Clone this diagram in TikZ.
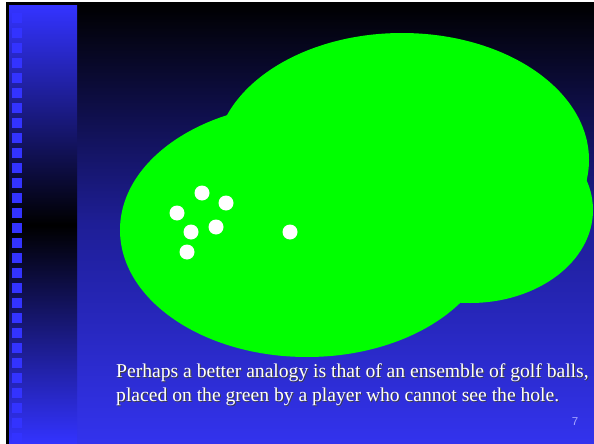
\documentclass[tikz,border=0pt]{standalone}
\usepackage{fontspec}
\setmainfont{Liberation Serif}
\newfontfamily\numfont{Liberation Sans}
\usepackage{tikz}
\usetikzlibrary{positioning}
\usepackage{xcolor}
\definecolor{slideblue}{RGB}{51,51,255}
\definecolor{floorblue}{RGB}{51,51,238}
\definecolor{midblue}{RGB}{30,30,150}
\definecolor{puttgreen}{RGB}{0,255,0}
\definecolor{pagelilac}{RGB}{165,165,255}

\begin{document}
\begin{tikzpicture}[
    x=1pt, y=-1pt,
    ball/.style={circle, fill=white, inner sep=0pt, minimum size=15pt},
    tab/.style={fill=slideblue},
    blob/.style={fill=puttgreen},
    caption/.style={
      text=white,
      align=left,
      anchor=north west,
      inner sep=0pt,
      font=\fontsize{19.6}{24.5}\selectfont
    },
    pagenum/.style={text=pagelilac, inner sep=0pt, font=\numfont\fontsize{11.5}{13}\selectfont}
  ]

  \useasboundingbox (0,0) rectangle (594,444);
  \fill[white] (0,0) rectangle (594,444);

  % slide background and side bar
  \shade[top color=black, bottom color=floorblue, middle color=midblue] (6,3) rectangle (594,444);
  \fill[black] (6,3) rectangle (9,444);
  \shade[top color=slideblue, bottom color=slideblue, middle color=black] (9,6) rectangle (77,444);
  \foreach \k in {0,...,28}
    \fill[tab] (12,{13+15*\k}) rectangle ++(10,10);

  % the green
  \fill[blob] (307,230) ellipse [x radius=187pt, y radius=127pt];
  \fill[blob] (402,160) ellipse [x radius=187pt, y radius=127pt];
  \fill[blob] (470,210) ellipse [x radius=123pt, y radius=93pt];

  \foreach \bx/\by [count=\i] in {202/193, 226/203, 177/213, 216/227, 191/232, 187/252, 290/232}
    \node[ball] (ball\i) at (\bx,\by) {};

  \node[caption, text=black!75] (captionshadow) at (117,364)
    {Perhaps a better analogy is that of an ensemble of golf balls,\\placed on the green by a player who cannot see the hole.};
  \node[caption] (caption) at (116,363)
    {Perhaps a better analogy is that of an ensemble of golf balls,\\placed on the green by a player who cannot see the hole.};

  \node[pagenum] (pageno) at (575,422) {7};

\end{tikzpicture}
\end{document}
